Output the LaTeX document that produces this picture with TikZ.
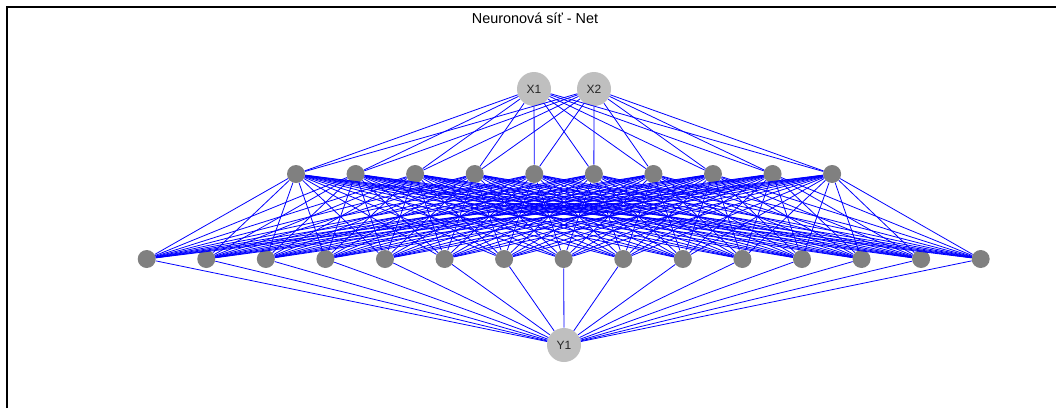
\documentclass[tikz,border=0pt]{standalone}
\usepackage{fontspec}
\setmainfont{Liberation Sans}

\begin{document}
\begin{tikzpicture}[x=0.75pt,y=-0.75pt,
	bignode/.style={circle, fill=black!25, inner sep=0pt, minimum size=25.5pt, font=\fontsize{9}{10}\selectfont, text=black!85},
	hidnode/.style={circle, fill=black!50, inner sep=0pt, minimum size=13.5pt},
	wire/.style={blue, line width=0.6pt}]
	\useasboundingbox (0,0) rectangle (1056,408);
	\draw[line width=1.1pt] (7,408) -- (7,7) -- (1056,7);
	\node[anchor=base] (title) at (535,23) {\fontsize{10.8}{12}\selectfont Neuronová síť - Net};
	% layers
	\node[bignode] (x1) at (534,89) {X1};
	\node[bignode] (x2) at (594,89) {X2};
	\foreach \i in {1,...,10}
		\node[hidnode] (h1-\i) at ({296+59.57*(\i-1)},174) {};
	\foreach \j in {1,...,15}
		\node[hidnode] (h2-\j) at ({146.7+59.57*(\j-1)},259) {};
	\node[bignode] (y1) at (564,345) {Y1};
	% weights
	\foreach \i in {1,...,10} {
		\draw[wire] (x1) -- (h1-\i);
		\draw[wire] (x2) -- (h1-\i);
	}
	\foreach \i in {1,...,10}
		\foreach \j in {1,...,15}
			\draw[wire] (h1-\i) -- (h2-\j);
	\foreach \j in {1,...,15}
		\draw[wire] (h2-\j) -- (y1);
\end{tikzpicture}
\end{document}
